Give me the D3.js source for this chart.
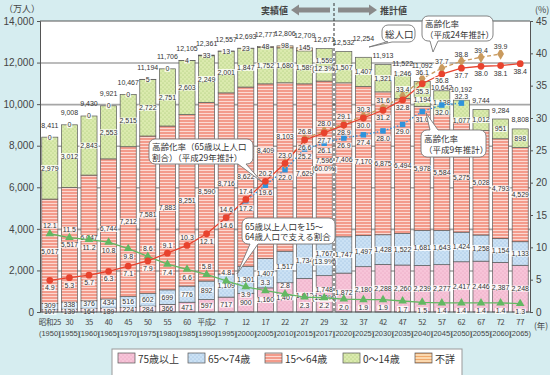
<!DOCTYPE html>
<html>
<head>
<meta charset="utf-8">
<script src="https://cdn.jsdelivr.net/npm/d3@7"></script>
<style>
body { margin: 0; background: #d6edf0; }
svg { display: block; font-family: "Noto Sans CJK JP", sans-serif; }
.num { font-family: "Liberation Sans Narrow", "Liberation Sans", sans-serif; font-size: 7px; fill: #333; }
.tick text { font-family: "Liberation Sans", sans-serif; font-size: 10px; fill: #444; }
</style>
</head>
<body>
<div id="chart"></div>
<script>
// Data
const yearsJa = ["昭和25","30","35","40","45","50","55","60","平成2","7","12","17","22","27","29","32","37","42","47","52","57","62","67","72","77"];
const yearsAd = [1950,1955,1960,1965,1970,1975,1980,1985,1990,1995,2000,2005,2010,2015,2017,2020,2025,2030,2035,2040,2045,2050,2055,2060,2065];
const age75 = [107,139,164,189,224,284,366,471,597,717,900,1160,1407,1613,1748,1872,2180,2288,2260,2239,2277,2417,2446,2387,2248];
const age65 = [309,338,376,434,516,602,699,776,892,1109,1301,1407,1517,1734,1767,1747,1497,1428,1522,1681,1643,1424,1258,1154,1133];
const age15 = [5017,5517,6047,6744,7212,7581,7883,8251,8590,8716,8622,8409,8103,7629,7596,7406,7170,6875,6494,5978,5584,5275,5028,4793,4529];
const age0 = [2979,3012,2843,2553,2515,2722,2751,2603,2249,2001,1847,1752,1680,1589,1559,1507,1407,1321,1246,1194,1138,1077,1012,951,898];
const unknown = [0,0,0,0,0,5,0,4,33,13,23,48,98,145,null,null,null,null,null,null,null,null,null,null,null];
const totals = [8411,9008,9430,9921,10467,11194,11706,12105,12361,12557,12693,12777,12806,12709,12671,12532,12254,11913,11522,11092,10642,10192,9744,9284,8808];
// 2017 shares (%)
const share2017 = { age0: "12.3", age15: "60.0", age65: "13.9", age75: "13.8" };

// 高齢化率 (平成29年推計), (平成24年推計), (平成9年推計)
const rateH29 = [4.9,5.3,5.7,6.3,7.1,7.9,9.1,10.3,12.1,14.6,17.4,20.2,23.0,26.6,27.7,28.9,30.0,31.2,32.8,35.3,36.8,37.7,38.0,38.1,38.4];
const rateH24 = [null,null,null,null,null,null,null,null,null,null,null,null,23.0,26.8,28.0,29.1,30.3,31.6,33.4,36.1,37.7,38.8,39.4,39.9,null];
const rateH9 = [null,null,null,null,null,null,null,null,null,14.6,17.2,19.6,22.0,25.2,26.1,26.9,27.4,28.0,29.0,31.0,32.0,32.3,null,null,null];
// 65歳以上人口を15～64歳人口で支える割合
const support = [12.1,11.5,11.2,10.8,9.8,8.6,7.4,6.6,5.8,4.8,3.9,3.3,2.8,2.3,2.2,2.0,1.9,1.9,1.7,1.5,1.4,1.4,1.4,1.4,1.3];

// label placement (layout only)
const redAbove = new Set([6,7,9,10,11,12]);
const greenAbove = new Set([0,1,5,8,9,11,12]);
const blueAbove = new Set([21]);
const totalGap = { 16: 19, 19: 16, 20: 3, 21: 11 };
const redGap = { 20: 6 };
const orangeGap = { 19: 6 };
const shift15 = { 11: -21, 12: -31, 13: 10, 14: 5 };
const shift0 = { 18: -12, 19: 6, 21: 9 };
const shift65 = { 0: -1, 1: -1, 2: -1, 3: -1 };
const shift75 = { 0: 1, 1: 1, 2: 1, 3: 1 };

const W = 550, H = 375;
const plot = { left: 40, right: 530, top: 21, bottom: 312 };

const svg = d3.select("#chart").append("svg").attr("width", W).attr("height", H);
const defs = svg.append("defs");

// patterns
function dotPattern(id, bg, dot) {
	const p = defs.append("pattern").attr("id", id).attr("patternUnits", "userSpaceOnUse")
		.attr("width", 4).attr("height", 4);
	p.append("rect").attr("width", 4).attr("height", 4).attr("fill", bg);
	p.append("circle").attr("cx", 1).attr("cy", 1).attr("r", 0.55).attr("fill", dot);
	p.append("circle").attr("cx", 3).attr("cy", 3).attr("r", 0.55).attr("fill", dot);
}
function stripePattern(id, bg, line) {
	const p = defs.append("pattern").attr("id", id).attr("patternUnits", "userSpaceOnUse")
		.attr("width", 4).attr("height", 3);
	p.append("rect").attr("width", 4).attr("height", 3).attr("fill", bg);
	p.append("rect").attr("y", 2).attr("width", 4).attr("height", 1).attr("fill", line);
}
dotPattern("p75", "#f7c4d8", "#e59bb9");
dotPattern("p65", "#cbe1f4", "#8fb7dc");
stripePattern("p15", "#f39b8b", "#fcd9d2");
dotPattern("p0", "#dbeaae", "#9dc36a");
stripePattern("pun", "#fbd8ae", "#f0a86a");

const keys = ["age75", "age65", "age15", "age0", "unknown"];
const fills = { age75: "url(#p75)", age65: "url(#p65)", age15: "url(#p15)", age0: "url(#p0)", unknown: "url(#pun)" };
const shifts = { age75: shift75, age65: shift65, age15: shift15, age0: shift0 };

const rows = yearsAd.map((y, i) => ({
	i, age75: age75[i], age65: age65[i], age15: age15[i], age0: age0[i], unknown: unknown[i] || 0
}));
const stacked = d3.stack().keys(keys)(rows);

const x = d3.scaleBand().domain(d3.range(yearsAd.length))
	.range([plot.left, plot.right]).paddingInner(0.18).paddingOuter(0.09);
const cx = (i) => x(i) + x.bandwidth() / 2;
const yL = d3.scaleLinear().domain([0, 14000]).range([plot.bottom, plot.top]);
const yR = d3.scaleLinear().domain([0, 45]).range([plot.bottom, plot.top]);

// plot background
svg.append("rect").attr("x", plot.left).attr("y", plot.top)
	.attr("width", plot.right - plot.left).attr("height", plot.bottom - plot.top).attr("fill", "#fff");

// grid
svg.append("g").attr("class", "grid")
	.attr("transform", `translate(${plot.left},0)`)
	.call(d3.axisLeft(yL).tickValues(d3.range(2000, 14000, 2000)).tickSize(-(plot.right - plot.left)).tickFormat(""))
	.call((g) => g.select(".domain").remove())
	.call((g) => g.selectAll("line").attr("stroke", "#a6a6a6").attr("stroke-width", 1.6));

// bars
const bars = svg.append("g");
stacked.forEach((layer) => {
	bars.selectAll(null).data(layer.filter((d) => d[1] > d[0])).enter().append("rect")
		.attr("x", (d) => x(d.data.i))
		.attr("width", x.bandwidth())
		.attr("y", (d) => yL(d[1]))
		.attr("height", (d) => yL(d[0]) - yL(d[1]))
		.attr("fill", fills[layer.key])
		.attr("stroke", "#5a5a5a")
		.attr("stroke-width", 0.7);
});

// label helper with white box
const labelLayer = svg.append("g");
function addLabel(parent, px, py, txt, bg = true) {
	const g = parent.append("g");
	const t = g.append("text").attr("class", "num").attr("x", px).attr("y", py)
		.attr("text-anchor", "middle").attr("dominant-baseline", "central").text(txt);
	if (bg) {
		const b = t.node().getBBox();
		g.insert("rect", "text").attr("x", b.x - 0.8).attr("y", b.y + 0.5)
			.attr("width", b.width + 1.6).attr("height", b.height - 1)
			.attr("fill", "#fff").attr("fill-opacity", 0.85);
	}
	return g;
}
const fmt = d3.format(",");

// segment labels
stacked.forEach((layer) => {
	layer.forEach((d) => {
		const i = d.data.i;
		if (layer.key === "unknown") {
			if (unknown[i] == null) return;
			addLabel(labelLayer, cx(i), yL(d[1]), fmt(unknown[i]));
			return;
		}
		const mid = yL((d[0] + d[1]) / 2) + (shifts[layer.key][i] || 0);
		const v = d.data[layer.key];
		if (i === 14) {
			addLabel(labelLayer, cx(i), mid - 4, fmt(v));
			addLabel(labelLayer, cx(i), mid + 4, `(${share2017[layer.key]}%)`);
		} else {
			addLabel(labelLayer, cx(i), mid, fmt(v));
		}
	});
});

// totals
totals.forEach((t, i) => {
	const top = yL(stacked[stacked.length - 1][i][1]);
	const gap = totalGap[i] != null ? totalGap[i] : (unknown[i] == null ? 9 : 12);
	addLabel(labelLayer, cx(i), top - gap, fmt(t), false);
});

// axes
const axL = svg.append("g").attr("transform", `translate(${plot.left},0)`)
	.call(d3.axisLeft(yL).tickValues(d3.range(0, 14001, 2000)).tickFormat(fmt).tickSize(3).tickPadding(3));
axL.selectAll("line, path").attr("stroke", "#555");
const axR = svg.append("g").attr("transform", `translate(${plot.right},0)`)
	.call(d3.axisRight(yR).tickValues(d3.range(0, 46, 5)).tickSize(3).tickPadding(3));
axR.selectAll("line, path").attr("stroke", "#555");
svg.append("line").attr("x1", plot.left).attr("x2", plot.right).attr("y1", plot.top).attr("y2", plot.top)
	.attr("stroke", "#555").attr("stroke-width", 1);
svg.append("line").attr("x1", plot.left).attr("x2", plot.right).attr("y1", plot.bottom).attr("y2", plot.bottom)
	.attr("stroke", "#555").attr("stroke-width", 1);

svg.append("text").attr("x", 4).attr("y", 12).attr("font-size", 9).attr("fill", "#444").text("（万人）");
svg.append("text").attr("x", 535).attr("y", 13).attr("font-size", 9).attr("fill", "#444").text("(%)");
svg.append("text").attr("x", 534).attr("y", 329).attr("font-size", 8.5).attr("fill", "#444").text("(年)");

// x labels
const xl = svg.append("g");
yearsJa.forEach((t, i) => {
	xl.append("text").attr("x", cx(i)).attr("y", 325).attr("text-anchor", "middle")
		.attr("font-size", 7.5).attr("fill", "#444").attr("letter-spacing", -0.3).text(t);
	xl.append("text").attr("x", cx(i)).attr("y", 336).attr("text-anchor", "middle")
		.attr("class", "num").style("font-size", "7.5px").style("fill", "#444")
		.text(`(${yearsAd[i]})`);
});

// dashed separator + header arrows
const sepX = (x(14) + x.bandwidth() + x(15)) / 2;
svg.append("line").attr("x1", sepX).attr("x2", sepX).attr("y1", 3).attr("y2", plot.bottom)
	.attr("stroke", "#333").attr("stroke-width", 1).attr("stroke-dasharray", "3,2");
svg.append("polygon")
	.attr("points", `${sepX - 43},10 ${sepX - 35},4.5 ${sepX - 35},7.5 ${sepX - 4},7.5 ${sepX - 4},12.5 ${sepX - 35},12.5 ${sepX - 35},15.5`)
	.attr("fill", "#8a8a8a");
svg.append("polygon")
	.attr("points", `${sepX + 43},10 ${sepX + 35},4.5 ${sepX + 35},7.5 ${sepX + 4},7.5 ${sepX + 4},12.5 ${sepX + 35},12.5 ${sepX + 35},15.5`)
	.attr("fill", "#8a8a8a");
svg.append("text").attr("x", sepX - 46).attr("y", 13.5).attr("text-anchor", "end")
	.attr("font-size", 9).attr("font-weight", "bold").attr("fill", "#444").text("実績値");
svg.append("text").attr("x", sepX + 46).attr("y", 13.5)
	.attr("font-size", 9).attr("font-weight", "bold").attr("fill", "#444").text("推計値");

// lines
const lineLayer = svg.append("g");
function drawSeries(values, color, dash, symbol, size) {
	const pts = values.map((v, i) => ({ i, v })).filter((d) => d.v != null);
	lineLayer.append("path").datum(pts)
		.attr("d", d3.line().x((d) => cx(d.i)).y((d) => yR(d.v)))
		.attr("fill", "none").attr("stroke", color).attr("stroke-width", 1.3)
		.attr("stroke-dasharray", dash);
	lineLayer.selectAll(null).data(pts).enter().append("path")
		.attr("d", d3.symbol().type(symbol).size(size))
		.attr("transform", (d) => `translate(${cx(d.i)},${yR(d.v)})`)
		.attr("fill", color);
	return pts;
}
const greenPts = drawSeries(support, "#62b862", null, d3.symbolTriangle, 32);
const bluePts = drawSeries(rateH9, "#2f93dc", "1.5,2", d3.symbolSquare, 30);
const orangePts = drawSeries(rateH24, "#c99a5e", "4,2.5", d3.symbolDiamond, 40);
const redPts = drawSeries(rateH29, "#e8432e", null, d3.symbolCircle, 36);

const lineLabels = svg.append("g");
greenPts.forEach((d) => addLabel(lineLabels, cx(d.i), yR(d.v) + (greenAbove.has(d.i) ? -8 : 8), d.v.toFixed(1)));
redPts.forEach((d) => addLabel(lineLabels, cx(d.i), yR(d.v) + (redAbove.has(d.i) ? -8 : (redGap[d.i] || 7.5)), d.v.toFixed(1)));
bluePts.forEach((d) => addLabel(lineLabels, cx(d.i), yR(d.v) + (blueAbove.has(d.i) ? -6.5 : 7.5), d.v.toFixed(1)));
orangePts.filter((d) => d.i > 12).forEach((d) => addLabel(lineLabels, cx(d.i), yR(d.v) - (orangeGap[d.i] || 7), d.v.toFixed(1)));

// callouts
function callout(bx, by, w, h, tail, lines, size) {
	const r = 6;
	let p = `M${bx + r},${by}`;
	if (tail.edge === "top") p += `L${tail.a},${by}L${tail.tx},${tail.ty}L${tail.b},${by}`;
	p += `L${bx + w - r},${by}A${r},${r} 0 0 1 ${bx + w},${by + r}L${bx + w},${by + h - r}A${r},${r} 0 0 1 ${bx + w - r},${by + h}`;
	if (tail.edge === "bottom") p += `L${tail.b},${by + h}L${tail.tx},${tail.ty}L${tail.a},${by + h}`;
	p += `L${bx + r},${by + h}A${r},${r} 0 0 1 ${bx},${by + h - r}L${bx},${by + r}A${r},${r} 0 0 1 ${bx + r},${by}Z`;
	svg.append("path").attr("d", p).attr("fill", "#fff").attr("stroke", "#777").attr("stroke-width", 0.9);
	const lh = size * 1.25;
	const y0 = by + h / 2 - (lines.length - 1) * lh / 2;
	lines.forEach((t, k) => {
		svg.append("text").attr("x", bx + 3).attr("y", y0 + k * lh).attr("dominant-baseline", "central")
			.attr("font-size", size).attr("fill", "#333").text(t);
	});
}
callout(382, 25, 33, 17, { edge: "bottom", a: 386, b: 392, tx: 369, ty: 47 }, ["総人口"], 9.5);
callout(422, 16, 71, 25, { edge: "bottom", a: 430, b: 438, tx: 433, ty: 52 }, ["高齢化率", "（平成24年推計）"], 8.5);
callout(149, 139, 104, 25, { edge: "bottom", a: 238, b: 246, tx: 262, ty: 182 }, ["高齢化率（65歳以上人口", "割合）（平成29年推計）"], 8.5);
callout(242, 218, 93, 26, { edge: "bottom", a: 250, b: 258, tx: 237, ty: 274 }, ["65歳以上人口を15～", "64歳人口で支える割合"], 8.5);
callout(421, 130, 65, 27, { edge: "top", a: 430, b: 438, tx: 426, ty: 113 }, ["高齢化率", "（平成9年推計）"], 8.5);

// legend
const lg = svg.append("g");
lg.append("rect").attr("x", 112).attr("y", 349).attr("width", 350).attr("height", 32)
	.attr("fill", "#fff").attr("stroke", "#999").attr("stroke-width", 1);
const legendItems = [
	{ key: "age75", label: "75歳以上", x: 118 },
	{ key: "age65", label: "65～74歳", x: 188 },
	{ key: "age15", label: "15～64歳", x: 265 },
	{ key: "age0", label: "0～14歳", x: 343 },
	{ key: "unknown", label: "不詳", x: 415 }
];
legendItems.forEach((d) => {
	lg.append("rect").attr("x", d.x).attr("y", 353).attr("width", 17).attr("height", 10)
		.attr("fill", fills[d.key]).attr("stroke", "#555").attr("stroke-width", 0.7);
	lg.append("text").attr("x", d.x + 20).attr("y", 358).attr("dominant-baseline", "central")
		.attr("font-size", 10).attr("fill", "#333").text(d.label);
});
</script>
</body>
</html>
